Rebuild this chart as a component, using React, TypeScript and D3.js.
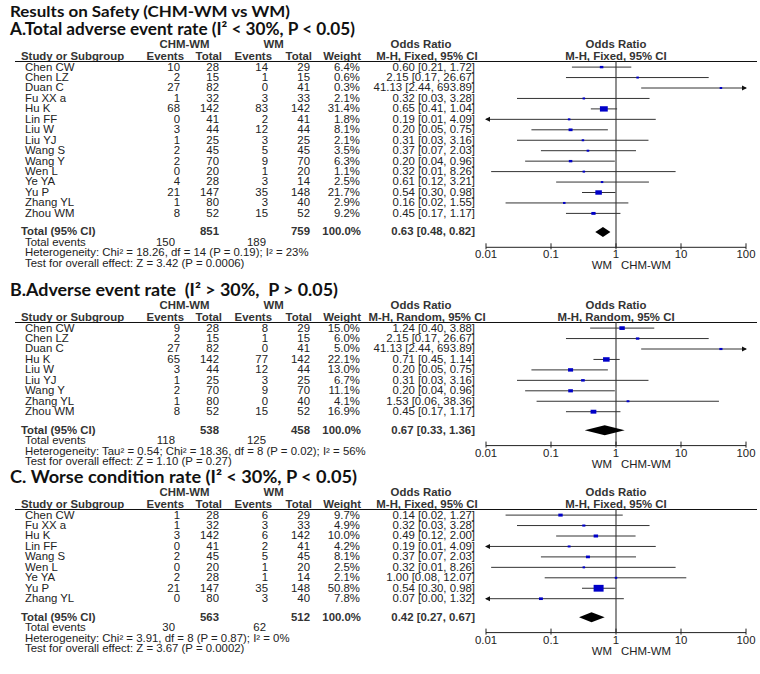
import React from 'react';
import * as d3 from 'd3';

const width = 760;
const height = 674;

// ---- panel A: total adverse event rate (fixed)
const studiesA = ['Chen CW', 'Chen LZ', 'Duan C', 'Fu XX a', 'Hu K', 'Lin FF', 'Liu W', 'Liu YJ', 'Wang S', 'Wang Y', 'Wen L', 'Ye YA', 'Yu P', 'Zhang YL', 'Zhou WM'];
const evTrtA = [10, 2, 27, 1, 68, 0, 3, 1, 2, 2, 0, 4, 21, 1, 8];
const nTrtA = [28, 15, 82, 32, 142, 41, 44, 25, 45, 70, 20, 28, 147, 80, 52];
const evCtlA = [14, 1, 0, 3, 83, 2, 12, 3, 5, 9, 1, 3, 35, 3, 15];
const nCtlA = [29, 15, 41, 33, 142, 41, 44, 25, 45, 70, 20, 14, 148, 40, 52];
const weightA = [6.4, 0.6, 0.3, 2.1, 31.4, 1.8, 8.1, 2.1, 3.5, 6.3, 1.1, 2.5, 21.7, 2.9, 9.2];
const orA = [0.60, 2.15, 41.13, 0.32, 0.65, 0.19, 0.20, 0.31, 0.37, 0.20, 0.32, 0.61, 0.54, 0.16, 0.45];
const loA = [0.21, 0.17, 2.44, 0.03, 0.41, 0.009, 0.05, 0.03, 0.07, 0.04, 0.012, 0.12, 0.30, 0.02, 0.17];
const hiA = [1.72, 26.67, 693.89, 3.28, 1.04, 4.09, 0.75, 3.16, 2.03, 0.96, 8.26, 3.21, 0.98, 1.55, 1.17];
const totalA = { nTrt: 851, nCtl: 759, evTrt: 150, evCtl: 189, or: 0.63, lo: 0.48, hi: 0.82 };

// ---- panel B: adverse event rate (random)
const studiesB = ['Chen CW', 'Chen LZ', 'Duan C', 'Hu K', 'Liu W', 'Liu YJ', 'Wang Y', 'Zhang YL', 'Zhou WM'];
const evTrtB = [9, 2, 27, 65, 3, 1, 2, 1, 8];
const nTrtB = [28, 15, 82, 142, 44, 25, 70, 80, 52];
const evCtlB = [8, 1, 0, 77, 12, 3, 9, 0, 15];
const nCtlB = [29, 15, 41, 142, 44, 25, 70, 40, 52];
const weightB = [15.0, 6.0, 5.0, 22.1, 13.0, 6.7, 11.1, 4.1, 16.9];
const orB = [1.24, 2.15, 41.13, 0.71, 0.20, 0.31, 0.20, 1.53, 0.45];
const loB = [0.40, 0.17, 2.44, 0.45, 0.05, 0.03, 0.04, 0.06, 0.17];
const hiB = [3.88, 26.67, 693.89, 1.14, 0.75, 3.16, 0.96, 38.36, 1.17];
const totalB = { nTrt: 538, nCtl: 458, evTrt: 118, evCtl: 125, or: 0.67, lo: 0.33, hi: 1.36 };

// ---- panel C: worse condition rate (fixed)
const studiesC = ['Chen CW', 'Fu XX a', 'Hu K', 'Lin FF', 'Wang S', 'Wen L', 'Ye YA', 'Yu P', 'Zhang YL'];
const evTrtC = [1, 1, 3, 0, 2, 0, 2, 21, 0];
const nTrtC = [28, 32, 142, 41, 45, 20, 28, 147, 80];
const evCtlC = [6, 3, 6, 2, 5, 1, 1, 35, 3];
const nCtlC = [29, 33, 142, 41, 45, 20, 14, 148, 40];
const weightC = [9.7, 4.9, 10.0, 4.2, 8.1, 2.5, 2.1, 50.8, 7.8];
const orC = [0.14, 0.32, 0.49, 0.19, 0.37, 0.32, 1.00, 0.54, 0.07];
const loC = [0.02, 0.03, 0.12, 0.009, 0.07, 0.012, 0.08, 0.30, 0.004];
const hiC = [1.27, 3.28, 2.00, 4.09, 2.03, 8.26, 12.07, 0.98, 1.32];
const totalC = { nTrt: 563, nCtl: 512, evTrt: 30, evCtl: 62, or: 0.42, lo: 0.27, hi: 0.67 };

const axisTicks = [0.01, 0.1, 1, 10, 100];
const axisLabels = ['0.01', '0.1', '1', '10', '100'];

const x = d3.scaleLog().domain([0.01, 100]).range([486, 746]);

const tableFont = "'Liberation Sans', Arial, sans-serif";
const titleFont = "Lato, 'Open Sans', sans-serif";
const ink = '#222';
const rowStep = 10.45;
const sx = 1.14; // the source table text is wider than it is tall

// right edges of the columns (values / headers)
const col = { name: 25, evT: 180, nT: 219, evC: 268, nC: 310, w: 360, or: 475 };
const hdr = { evT: 184, nT: 222, evC: 272, nC: 312, w: 361 };

const txt = { fontFamily: tableFont, fontSize: 10, fill: ink };
const bold = { ...txt, fontWeight: 'bold', fill: '#333' };

const fmt = (v) => v.toFixed(2);

function T({ x, y, anchor = 'start', b = false, children }) {
  return (
    <text transform={`translate(${x},${y}) scale(${sx},1)`} textAnchor={anchor} style={b ? bold : txt}>
      {children}
    </text>
  );
}

function Panel({ top, title, titleLen, model, studies, evT, nT, evC, nC, weight, or, lo, hi, total, het, test }) {
  const rowY = (i) => top + 41.5 + i * rowStep;
  const lastY = rowY(studies.length - 1);
  const totY = lastY + 18.5;
  const axisY = totY + 12;
  const lineY = top + 32.5;
  const h1 = top + 18.5;
  const h2 = top + 30.8;
  const xl = (v) => x(Math.max(v, 0.01));
  const xr = (v) => x(Math.min(v, 100));
  const orLabel = `M-H, ${model}, 95% CI`;

  return (
    <g>
      <text x={10} y={top + 5.5} textLength={titleLen} lengthAdjust="spacingAndGlyphs"
        style={{ fontFamily: titleFont, fontWeight: 'bold', fontSize: 16.5, fill: '#111', whiteSpace: 'pre' }}>{title}</text>

      {/* headers */}
      <T x={(hdr.evT - 37 + hdr.nT) / 2} y={h1} anchor="middle" b>CHM-WM</T>
      <T x={(hdr.evC - 37 + hdr.nC) / 2} y={h1} anchor="middle" b>WM</T>
      <T x={col.or - 54} y={h1} anchor="middle" b>Odds Ratio</T>
      <T x={x(1)} y={h1} anchor="middle" b>Odds Ratio</T>

      <T x={21} y={h2} b>Study or Subgroup</T>
      <T x={hdr.evT} y={h2} anchor="end" b>Events</T>
      <T x={hdr.nT} y={h2} anchor="end" b>Total</T>
      <T x={hdr.evC} y={h2} anchor="end" b>Events</T>
      <T x={hdr.nC} y={h2} anchor="end" b>Total</T>
      <T x={hdr.w} y={h2} anchor="end" b>Weight</T>
      <T x={col.or - 48} y={h2} anchor="middle" b>{orLabel}</T>
      <T x={x(1)} y={h2} anchor="middle" b>{orLabel}</T>
      <line x1={15} x2={757} y1={lineY} y2={lineY} stroke="#111" strokeWidth={1} />

      {/* null line */}
      <line x1={x(1)} x2={x(1)} y1={lineY} y2={axisY} stroke="#444" strokeWidth={1.2} />

      {studies.map((s, i) => {
        const y = rowY(i);
        const yc = y - 3.4;
        const side = Math.max(2.5, 1.4 * Math.sqrt(weight[i]));
        const h = Math.max(2, side * 0.68);
        return (
          <g key={s + i}>
            <T x={col.name} y={y}>{s}</T>
            <T x={col.evT} y={y} anchor="end">{evT[i]}</T>
            <T x={col.nT} y={y} anchor="end">{nT[i]}</T>
            <T x={col.evC} y={y} anchor="end">{evC[i]}</T>
            <T x={col.nC} y={y} anchor="end">{nC[i]}</T>
            <T x={col.w} y={y} anchor="end">{weight[i].toFixed(1) + '%'}</T>
            <T x={col.or} y={y} anchor="end">{`${fmt(or[i])} [${fmt(lo[i])}, ${fmt(hi[i])}]`}</T>
            <line x1={xl(lo[i])} x2={xr(hi[i])} y1={yc} y2={yc} stroke="#333" strokeWidth={1} />
            {lo[i] < 0.01 && (
              <path d={`M${x(0.01) - 1},${yc} l5,-2.5 l0,5 z`} fill="#111" />
            )}
            {hi[i] > 100 && (
              <path d={`M${x(100) + 1},${yc} l-5,-2.5 l0,5 z`} fill="#111" />
            )}
            <rect x={x(or[i]) - side / 2} y={yc - h / 2} width={side} height={h} fill="#0000c8" />
          </g>
        );
      })}

      {/* totals */}
      <T x={21} y={totY} b>Total (95% CI)</T>
      <T x={col.nT} y={totY} anchor="end" b>{total.nTrt}</T>
      <T x={col.nC} y={totY} anchor="end" b>{total.nCtl}</T>
      <T x={hdr.w} y={totY} anchor="end" b>100.0%</T>
      <T x={col.or} y={totY} anchor="end" b>{`${fmt(total.or)} [${fmt(total.lo)}, ${fmt(total.hi)}]`}</T>
      <path
        d={`M${x(total.lo)},${totY - 3.4} L${x(total.or)},${totY - 8.4} L${x(total.hi)},${totY - 3.4} L${x(total.or)},${totY + 1.6} Z`}
        fill="#000"
      />
      <T x={col.name} y={totY + rowStep}>Total events</T>
      <T x={col.evT - 5} y={totY + rowStep} anchor="end">{total.evTrt}</T>
      <T x={col.evC - 2} y={totY + rowStep} anchor="end">{total.evCtl}</T>
      <T x={col.name} y={totY + rowStep * 2}>{het}</T>
      <T x={col.name} y={totY + rowStep * 3}>{test}</T>

      {/* axis */}
      <line x1={x(0.01)} x2={x(100)} y1={axisY} y2={axisY} stroke="#222" />
      {axisTicks.map((t, i) => (
        <g key={t}>
          <line x1={x(t)} x2={x(t)} y1={axisY - 4} y2={axisY + 2} stroke="#222" />
          <T x={x(t)} y={axisY + 11} anchor="middle">{axisLabels[i]}</T>
        </g>
      ))}
      <T x={x(1) - 4} y={axisY + 22} anchor="end">WM</T>
      <T x={x(1) + 5} y={axisY + 22}>CHM-WM</T>
    </g>
  );
}

export default function App() {
  return (
    <svg width={width} height={height} style={{ position: 'absolute', left: 0, top: 0, background: '#fff' }}>
      <text x={10} y={17} textLength={280} lengthAdjust="spacingAndGlyphs"
        style={{ fontFamily: titleFont, fontWeight: 'bold', fontSize: 15, fill: '#111' }}>
        Results on Safety (CHM-WM vs WM)
      </text>
      <Panel
        top={29}
        title="A.Total adverse event rate (I² < 30%, P < 0.05)"
        titleLen={345}
        model="Fixed"
        studies={studiesA} evT={evTrtA} nT={nTrtA} evC={evCtlA} nC={nCtlA}
        weight={weightA} or={orA} lo={loA} hi={hiA} total={totalA}
        het="Heterogeneity: Chi² = 18.26, df = 14 (P = 0.19); I² = 23%"
        test="Test for overall effect: Z = 3.42 (P = 0.0006)"
      />
      <Panel
        top={290}
        title="B.Adverse event rate  (I² > 30%,  P > 0.05)"
        titleLen={328}
        model="Random"
        studies={studiesB} evT={evTrtB} nT={nTrtB} evC={evCtlB} nC={nCtlB}
        weight={weightB} or={orB} lo={loB} hi={hiB} total={totalB}
        het="Heterogeneity: Tau² = 0.54; Chi² = 18.36, df = 8 (P = 0.02); I² = 56%"
        test="Test for overall effect: Z = 1.10 (P = 0.27)"
      />
      <Panel
        top={477}
        title="C. Worse condition rate (I² < 30%, P < 0.05)"
        titleLen={347}
        model="Fixed"
        studies={studiesC} evT={evTrtC} nT={nTrtC} evC={evCtlC} nC={nCtlC}
        weight={weightC} or={orC} lo={loC} hi={hiC} total={totalC}
        het="Heterogeneity: Chi² = 3.91, df = 8 (P = 0.87); I² = 0%"
        test="Test for overall effect: Z = 3.67 (P = 0.0002)"
      />
    </svg>
  );
}
